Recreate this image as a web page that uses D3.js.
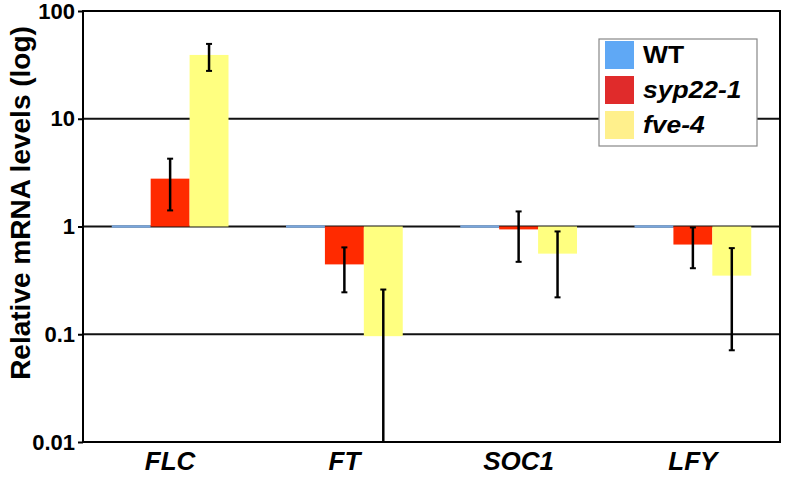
<!DOCTYPE html>
<html><head><meta charset="utf-8">
<script src="https://cdn.jsdelivr.net/npm/d3@7"></script>
<style>body{margin:0;background:#fff}svg{display:block}text{font-family:Arial,"Liberation Sans",sans-serif}</style>
</head><body><svg id="c" width="789" height="479"></svg>
<script>
const genes = ["FLC", "FT", "SOC1", "LFY"];
const seriesNames = ["WT", "syp22-1", "fve-4"];
const wtValues = [1, 1, 1, 1];
const syp22Values = [2.78, 0.445, 0.94, 0.68];
const syp22ErrHigh = [4.26, 0.64, 1.38, 0.98];
const syp22ErrLow = [1.41, 0.245, 0.47, 0.41];
const fve4Values = [39.1, 0.096, 0.56, 0.35];
const fve4ErrHigh = [49.5, 0.26, 0.9, 0.63];
const fve4ErrLow = [27.8, 0.01, 0.22, 0.071];
const yTicks = [100, 10, 1, 0.1, 0.01];
const yTickLabels = ["100", "10", "1", "0.1", "0.01"];

const barColors = ["#7aa6dc", "#ff2a00", "#ffff80"];
const legendColors = ["#5fa8f5", "#e02b2b", "#fff08c"];

const svg = d3.select("#c");
const m = {l: 83, r: 780, t: 11, b: 442};
const y = d3.scaleLog().domain([0.01, 100]).range([m.b, m.t]);
const x0 = d3.scaleBand().domain(genes).range([m.l, m.r]).paddingInner(0.33).paddingOuter(0.165);
const x1 = d3.scaleBand().domain(seriesNames).range([0, x0.bandwidth()]);

// gridlines
svg.append("g").selectAll("line").data(yTicks).join("line")
  .attr("x1", m.l).attr("x2", m.r).attr("y1", d => y(d)).attr("y2", d => y(d))
  .attr("stroke", "#111").attr("stroke-width", 2);

const data = genes.map((g, i) => ({gene: g, vals: [
  {s: "WT", v: wtValues[i]},
  {s: "syp22-1", v: syp22Values[i], hi: syp22ErrHigh[i], lo: syp22ErrLow[i]},
  {s: "fve-4", v: fve4Values[i], hi: fve4ErrHigh[i], lo: fve4ErrLow[i]}
]}));

const minH = 2.5;
const grp = svg.append("g").selectAll("g").data(data).join("g")
  .attr("transform", d => `translate(${x0(d.gene)},0)`);
grp.selectAll("rect").data(d => d.vals).join("rect")
  .attr("x", d => x1(d.s)).attr("width", x1.bandwidth())
  .attr("y", d => { const h = Math.abs(y(d.v) - y(1)); return h < minH ? y(d.v) - minH / 2 : Math.min(y(d.v), y(1)); })
  .attr("height", d => Math.max(Math.abs(y(d.v) - y(1)), minH))
  .attr("fill", (d, i) => barColors[i]);
const eb = grp.selectAll("g.err").data(d => d.vals.filter(v => v.hi !== undefined)).join("g").attr("class", "err");
eb.append("line").attr("x1", d => x1(d.s) + x1.bandwidth() / 2).attr("x2", d => x1(d.s) + x1.bandwidth() / 2)
  .attr("y1", d => y(d.hi)).attr("y2", d => y(d.lo)).attr("stroke", "#000").attr("stroke-width", 2.5);
["hi", "lo"].forEach(k => {
  eb.append("line").attr("x1", d => x1(d.s) + x1.bandwidth() / 2 - 3).attr("x2", d => x1(d.s) + x1.bandwidth() / 2 + 3)
    .attr("y1", d => y(d[k])).attr("y2", d => y(d[k])).attr("stroke", "#000").attr("stroke-width", 2);
});

// frame
svg.append("rect").attr("x", m.l).attr("y", m.t).attr("width", m.r - m.l).attr("height", m.b - m.t)
  .attr("fill", "none").attr("stroke", "#000").attr("stroke-width", 2);

// y axis
const yAxis = d3.axisLeft(y).tickValues(yTicks).tickFormat((d, i) => yTickLabels[i]).tickSize(5).tickPadding(3);
const ya = svg.append("g").attr("transform", `translate(${m.l},0)`).call(yAxis);
ya.select(".domain").remove();
ya.selectAll(".tick line").attr("stroke", "#000").attr("stroke-width", 2);
ya.selectAll(".tick text").attr("font-size", 22).attr("font-weight", "bold").attr("fill", "#000");

// x axis labels
const xAxis = d3.axisBottom(x0).tickSize(0).tickPadding(10);
const xa = svg.append("g").attr("transform", `translate(0,${m.b})`).call(xAxis);
xa.select(".domain").remove();
xa.selectAll(".tick text").attr("font-size", 26).attr("font-weight", "bold").attr("font-style", "italic").attr("fill", "#000");

// y title
svg.append("text").attr("transform", `translate(30,203) rotate(-90)`).attr("text-anchor", "middle")
  .attr("font-size", 28).attr("font-weight", "bold").text("Relative mRNA levels (log)");

// legend
const lg = svg.append("g");
lg.append("rect").attr("x", 599).attr("y", 39).attr("width", 158).attr("height", 107)
  .attr("fill", "#fff").attr("stroke", "#888").attr("stroke-width", 1.2);
const li = lg.selectAll("g.li").data(seriesNames).join("g").attr("class", "li")
  .attr("transform", (d, i) => `translate(605,${41 + i * 35})`);
li.append("rect").attr("width", 29).attr("height", 28).attr("fill", (d, i) => legendColors[i]);
li.append("text").attr("transform", "translate(38,22) scale(1.15,1)").attr("font-size", 23).attr("font-weight", "bold")
  .attr("font-style", (d, i) => i === 0 ? "normal" : "italic").text(d => d);
</script></body></html>
